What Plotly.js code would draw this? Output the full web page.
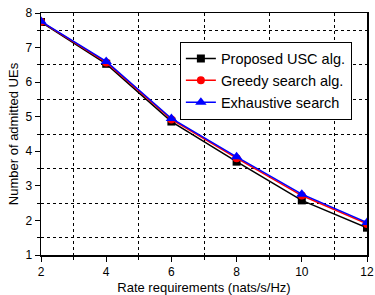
<!DOCTYPE html>
<html><head><meta charset="utf-8">
<script src="https://cdn.plot.ly/plotly-3.0.1.min.js"></script>
<style>body{margin:0;background:#fff}#c{width:375px;height:295px}</style>
</head><body><div id="c"></div>
<script>
const rates = [2, 4, 6, 8, 10, 12];
const proposedUSC = [7.74, 6.53, 4.86, 3.70, 2.58, 1.79];
const greedySearch = [7.75, 6.57, 4.92, 3.80, 2.72, 1.90];
const exhaustiveSearch = [7.76, 6.60, 4.95, 3.84, 2.76, 1.94];
const seriesNames = ["Proposed USC alg.", "Greedy search alg.", "Exhaustive search"];

const traces = [
  {x: rates, y: proposedUSC, name: seriesNames[0], mode: "lines+markers",
   line: {color: "#000000", width: 1.5}, marker: {symbol: "square", size: 8, color: "#000000"}},
  {x: rates, y: greedySearch, name: seriesNames[1], mode: "lines+markers",
   line: {color: "#ff0000", width: 1.5}, marker: {symbol: "circle", size: 8, color: "#ff0000"}},
  {x: rates, y: exhaustiveSearch, name: seriesNames[2], mode: "lines+markers",
   line: {color: "#0000ff", width: 1.5}, marker: {symbol: "triangle-up", size: 10, color: "#0000ff"}}
];

const layout = {
  width: 375, height: 295,
  margin: {l: 41, r: 8, t: 13, b: 40},
  paper_bgcolor: "#fff", plot_bgcolor: "#fff",
  font: {family: "Arial, Liberation Sans, sans-serif", size: 12, color: "#000"},
  showlegend: true,
  legend: {x: 0.426, y: 0.882, xanchor: "left", yanchor: "top",
           bordercolor: "#000", borderwidth: 1, bgcolor: "#fff",
           font: {size: 14.5}, tracegroupgap: 0, itemwidth: 30},
  xaxis: {range: [2, 12], dtick: 2, tick0: 2, showgrid: false, zeroline: false,
          showline: true, linecolor: "#000", linewidth: 1.5, mirror: true,
          ticks: "outside", ticklen: 5, tickcolor: "#000",
          minor: {dtick: 1, tick0: 1, showgrid: true, gridcolor: "#000", griddash: "dot", gridwidth: 1,
                  ticks: "outside", ticklen: 3, tickcolor: "#000"},
          title: {text: "Rate requirements (nats/s/Hz)", font: {size: 13}, standoff: 5},
          tickfont: {size: 12}},
  yaxis: {range: [1, 8], dtick: 1, showgrid: false, zeroline: false,
          showline: true, linecolor: "#000", linewidth: 1.5, mirror: true,
          ticks: "outside", ticklen: 5, tickcolor: "#000",
          minor: {dtick: 0.5, tick0: 0.5, showgrid: true, gridcolor: "#000", griddash: "dot", gridwidth: 1,
                  ticks: "outside", ticklen: 3, tickcolor: "#000"},
          title: {text: "Number of admitted UEs", font: {size: 13}, standoff: 4},
          tickfont: {size: 12}},
  xaxis2: {overlaying: "x", side: "top", range: [2, 12], dtick: 2, tick0: 2,
           showgrid: false, zeroline: false, showticklabels: false,
           ticks: "inside", ticklen: 5, tickcolor: "#000",
           minor: {dtick: 1, tick0: 1, ticks: "inside", ticklen: 3, tickcolor: "#000"}},
  yaxis2: {overlaying: "y", side: "right", range: [1, 8], dtick: 1,
           showgrid: false, zeroline: false, showticklabels: false,
           ticks: "inside", ticklen: 5, tickcolor: "#000",
           minor: {dtick: 0.5, tick0: 0.5, ticks: "inside", ticklen: 3, tickcolor: "#000"}}
};

Plotly.newPlot("c", traces, layout, {displayModeBar: false, staticPlot: true});
</script>
</body></html>
